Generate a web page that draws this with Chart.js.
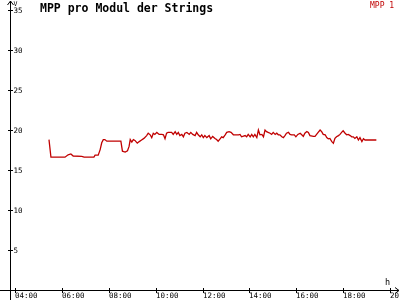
<!DOCTYPE html>
<html>
<head>
<meta charset="utf-8">
<script src="https://cdn.jsdelivr.net/npm/chart.js@4/dist/chart.umd.min.js"></script>
<style>
  html, body { margin: 0; padding: 0; background: #fff; }
  #wrap { width: 400px; height: 300px; position: relative; }
</style>
</head>
<body>
<div id="wrap"><canvas id="chart"></canvas></div>
<script>
// Messwerte (Uhrzeit -> MPP-Spannung pro Modul)
const times = [
  '05:27','05:32','06:08','06:16','06:23','06:29','06:51','06:57','07:22','07:25',
  '07:33','07:38','07:42','07:46','07:50','07:55','08:31','08:35','08:42','08:48',
  '08:52','08:55','08:59','09:03','09:07','09:13','09:18','09:24','09:30','09:37',
  '09:41','09:46','09:50','09:54','09:58','10:03','10:09','10:16','10:20','10:24',
  '10:28','10:32','10:41','10:45','10:50','10:54','10:58','11:02','11:07','11:11',
  '11:15','11:20','11:26','11:30','11:35','11:41','11:45','11:49','11:54','11:58',
  '12:02','12:06','12:11','12:17','12:21','12:26','12:32','12:36','12:40','12:45',
  '12:49','12:53','12:58','13:02','13:08','13:13','13:19','13:32','13:36','13:40',
  '13:49','13:53','13:57','14:02','14:06','14:10','14:14','14:19','14:23','14:27',
  '14:32','14:36','14:40','14:44','14:48','14:53','14:57','15:01','15:06','15:10',
  '15:14','15:18','15:23','15:27','15:31','15:35','15:40','15:44','15:48','15:55',
  '15:59','16:04','16:10','16:14','16:18','16:22','16:27','16:31','16:35','16:44',
  '16:48','16:52','16:56','17:01','17:05','17:09','17:14','17:18','17:22','17:26',
  '17:31','17:35','17:39','17:43','17:48','17:52','17:56','18:00','18:05','18:09',
  '18:13','18:18','18:22','18:26','18:30','18:35','18:39','18:43','18:48','18:52',
  '18:56','19:25'
];
const mpp1 = [
  18.8,16.6,16.6,16.9,17.0,16.75,16.7,16.6,16.6,16.85,
  16.85,17.55,18.4,18.8,18.8,18.6,18.6,17.35,17.25,17.4,
  17.95,18.8,18.5,18.8,18.7,18.35,18.55,18.75,18.95,19.3,
  19.6,19.4,19.05,19.6,19.45,19.7,19.45,19.45,19.4,18.9,
  19.6,19.7,19.7,19.45,19.8,19.45,19.7,19.3,19.45,19.15,
  19.6,19.7,19.45,19.7,19.45,19.3,19.7,19.4,19.15,19.4,
  19.05,19.3,19.05,19.3,18.9,19.2,18.95,18.8,18.6,18.9,
  19.15,19.05,19.4,19.7,19.8,19.7,19.4,19.4,19.45,19.15,
  19.3,19.15,19.45,19.15,19.45,19.15,19.45,19.05,20.0,19.4,
  19.45,19.15,20.0,19.8,19.7,19.6,19.45,19.7,19.45,19.6,
  19.4,19.4,19.15,19.05,19.3,19.6,19.7,19.45,19.4,19.4,
  19.15,19.45,19.6,19.4,19.2,19.6,19.8,19.7,19.3,19.2,
  19.2,19.45,19.7,20.0,19.8,19.45,19.4,19.05,18.9,18.95,
  18.55,18.35,18.95,19.15,19.3,19.45,19.7,19.9,19.6,19.4,
  19.45,19.3,19.15,19.15,18.95,19.15,18.75,19.05,18.55,18.9,
  18.75,18.75
];
const yTicks = [5, 10, 15, 20, 25, 30, 35];
const xTicks = ['04:00','06:00','08:00','10:00','12:00','14:00','16:00','18:00','20:00'];

const toHours = s => Number(s.slice(0, 2)) + Number(s.slice(3)) / 60;

const lineColor = '#c00000';
const tickFont = '7.5px "DejaVu Sans Mono"';

// Achsen mit Pfeilen, Beschriftung, Titel und Legende
const axesPlugin = {
  id: 'axesPlugin',
  afterDraw(chart) {
    const ctx = chart.ctx;
    const xs = chart.scales.x, ys = chart.scales.y;
    const x0 = Math.round(xs.left) + 0.5;
    const y0 = Math.round(ys.getPixelForValue(0)) + 0.5;
    ctx.save();
    ctx.strokeStyle = '#000';
    ctx.fillStyle = '#000';
    ctx.lineWidth = 1;

    ctx.beginPath();
    ctx.moveTo(x0, 300); ctx.lineTo(x0, 1);
    ctx.moveTo(x0 - 3, 5); ctx.lineTo(x0, 1); ctx.lineTo(x0 + 3, 5);
    ctx.moveTo(0, y0); ctx.lineTo(399, y0);
    ctx.moveTo(395, y0 - 3); ctx.lineTo(399, y0); ctx.lineTo(395, y0 + 3);
    ctx.stroke();

    ctx.font = tickFont;
    ctx.textAlign = 'left';
    ctx.textBaseline = 'middle';
    yTicks.forEach(v => {
      const py = Math.round(ys.getPixelForValue(v)) + 0.5;
      ctx.beginPath();
      ctx.moveTo(x0 - 2.5, py); ctx.lineTo(x0 + 2.5, py);
      ctx.stroke();
      ctx.fillText(String(v), x0 + 3, py + 1);
    });

    ctx.textBaseline = 'top';
    xTicks.forEach(t => {
      const px = Math.round(xs.getPixelForValue(toHours(t))) + 0.5;
      ctx.beginPath();
      ctx.moveTo(px, y0 - 2.5); ctx.lineTo(px, y0 + 2.5);
      ctx.stroke();
      ctx.fillText(t, px - 0.5, y0 + 2);
    });

    ctx.font = '6.5px "DejaVu Sans Mono"';
    ctx.textBaseline = 'alphabetic';
    ctx.fillText('V', x0 + 3, 6);
    ctx.font = '8.5px "DejaVu Sans Mono"';
    ctx.fillText('h', 385, 285);

    ctx.font = 'bold 11.5px "DejaVu Sans Mono"';
    ctx.fillText('MPP pro Modul der Strings', 40, 12);

    ctx.fillStyle = lineColor;
    ctx.font = '8px "DejaVu Sans Mono"';
    ctx.fillText('MPP 1', 370, 8);
    ctx.restore();
  }
};

new Chart(document.getElementById('chart'), {
  type: 'line',
  data: {
    datasets: [{
      label: 'MPP 1',
      data: times.map((t, i) => ({ x: toHours(t), y: mpp1[i] })),
      borderColor: lineColor,
      borderWidth: 1.3,
      pointRadius: 0,
      tension: 0,
      fill: false
    }]
  },
  options: {
    responsive: true,
    maintainAspectRatio: false,
    animation: false,
    events: [],
    layout: { padding: { left: 10, top: 10, right: 2, bottom: 10 } },
    plugins: { legend: { display: false }, title: { display: false }, tooltip: { enabled: false } },
    scales: {
      x: { type: 'linear', min: 3.7867, max: 20.34, display: false },
      y: { min: 0, max: 35, display: false }
    }
  },
  plugins: [axesPlugin]
});
</script>
</body>
</html>
